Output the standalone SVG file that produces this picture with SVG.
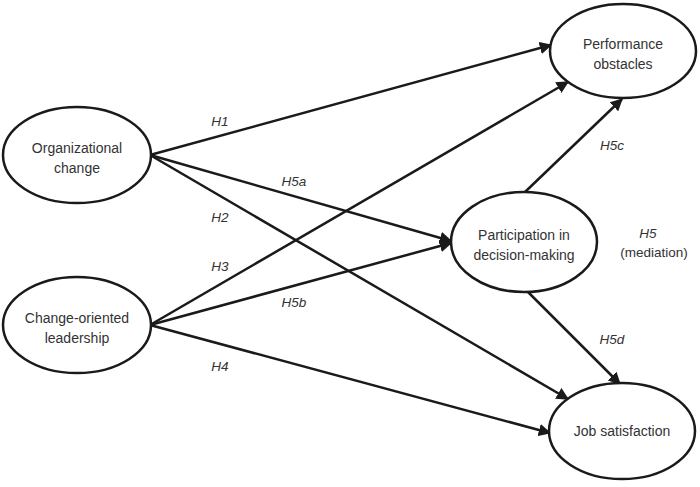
<svg xmlns="http://www.w3.org/2000/svg" width="700" height="487" viewBox="0 0 700 487">
<style>
.node ellipse{fill:#fff;stroke:#1a1a1a;stroke-width:2.5}
.node text{font-family:"Liberation Sans",Arial,sans-serif;font-size:14px;fill:#333;text-anchor:middle}
.lbl{font-family:"Liberation Sans",Arial,sans-serif;font-size:13.5px;fill:#333;text-anchor:middle;font-style:italic}
.med{font-family:"Liberation Sans",Arial,sans-serif;font-size:13.5px;fill:#333;text-anchor:middle}
#edges line{stroke:#1a1a1a;stroke-width:2.5;marker-end:url(#arr)}
</style>
<defs>
<marker id="arr" viewBox="0 0 10 10" refX="9" refY="5" markerWidth="5" markerHeight="5" orient="auto" markerUnits="strokeWidth">
<path d="M0,0 L10,5 L0,10 z" fill="#1a1a1a"/>
</marker>
</defs>
<rect width="700" height="487" fill="#fff"/>
<g id="edges">
<line x1="150" y1="155" x2="551" y2="45"/>
<line x1="150" y1="155" x2="451" y2="241"/>
<line x1="150" y1="155" x2="568" y2="399"/>
<line x1="150" y1="325" x2="568" y2="82"/>
<line x1="150" y1="325" x2="451" y2="243"/>
<line x1="150" y1="325" x2="550" y2="433"/>
<line x1="525" y1="192" x2="622" y2="99"/>
<line x1="528" y1="292" x2="620" y2="384"/>
</g>
<g id="labels">
<text class="lbl" x="220" y="126">H1</text>
<text class="lbl" x="294" y="186">H5a</text>
<text class="lbl" x="220" y="222">H2</text>
<text class="lbl" x="220" y="271">H3</text>
<text class="lbl" x="294" y="307">H5b</text>
<text class="lbl" x="220" y="371">H4</text>
<text class="lbl" x="612" y="150">H5c</text>
<text class="lbl" x="612" y="344">H5d</text>
<text class="lbl" x="648" y="238">H5</text>
<text class="med" x="654" y="257">(mediation)</text>
</g>
<g class="node" id="n_org"><ellipse cx="77" cy="155" rx="74" ry="48"/><text x="77" y="153">Organizational</text><text x="77" y="173">change</text></g>
<g class="node" id="n_col"><ellipse cx="77" cy="325" rx="74" ry="48"/><text x="77" y="323">Change-oriented</text><text x="77" y="343">leadership</text></g>
<g class="node" id="n_po"><ellipse cx="623" cy="51" rx="73" ry="47"/><text x="623" y="49">Performance</text><text x="623" y="69">obstacles</text></g>
<g class="node" id="n_pdm"><ellipse cx="524" cy="242" rx="73" ry="50"/><text x="524" y="240">Participation in</text><text x="524" y="260">decision-making</text></g>
<g class="node" id="n_js"><ellipse cx="622" cy="431" rx="73" ry="48"/><text x="622" y="436">Job satisfaction</text></g>
</svg>
